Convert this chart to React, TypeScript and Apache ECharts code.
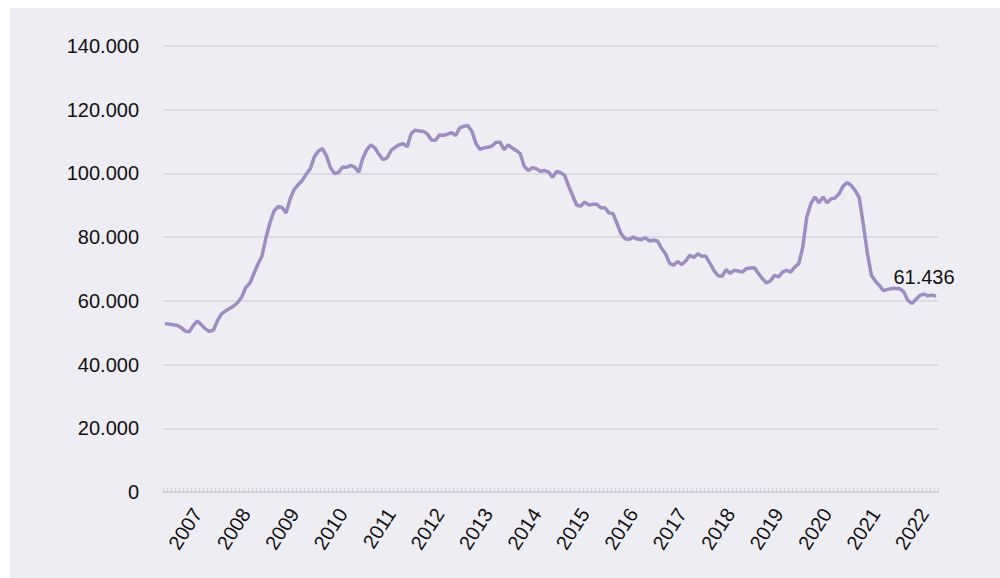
import React, { useEffect, useRef } from "react";
import * as echarts from "echarts";

// Monthly series, May 2006 – April 2022 (values in thousands)
const startYear = 2006;
const startMonth = 5;
const values: number[] = [
  52.9, 52.7, 52.5, 52.3, 51.6, 50.5, 50.3, 52.2, 53.7, 52.5,
  51.2, 50.4, 50.8, 53.8, 55.9, 56.8, 57.6, 58.4, 59.5, 61.2,
  64.2, 65.5, 68.5, 71.5, 74.0, 79.8, 84.5, 88.2, 89.6, 89.3,
  87.6, 92.0, 95.0, 96.5, 97.8, 99.8, 101.5, 105.2, 107.0, 107.8,
  105.5, 101.8, 100.0, 100.3, 102.0, 101.9, 102.5, 102.0, 100.4, 104.8,
  107.5, 109.0, 108.0, 106.0, 104.3, 104.9, 107.2, 108.2, 109.0, 109.3,
  108.4, 112.6, 113.6, 113.3, 113.2, 112.4, 110.5, 110.4, 112.1, 112.0,
  112.3, 112.8, 111.9, 114.3, 114.8, 115.0, 113.3, 109.5, 107.6, 108.0,
  108.2, 108.6, 109.8, 109.8, 107.5, 109.0, 108.0, 107.2, 106.2, 102.2,
  100.9, 101.8, 101.5, 100.7, 100.9, 100.5, 98.8, 100.6, 100.2, 99.4,
  96.0, 93.0, 90.0, 89.8, 91.0, 90.1, 90.3, 90.3, 89.2, 89.2,
  87.6, 87.4, 84.2, 81.0, 79.5, 79.3, 80.0, 79.4, 79.2, 79.8,
  78.8, 79.0, 78.8, 76.5, 74.8, 71.8, 71.2, 72.3, 71.4, 72.5,
  74.3, 73.6, 74.8, 74.0, 74.0, 71.8, 69.5, 67.9, 67.7, 69.8,
  68.6, 69.6, 69.4, 69.0, 70.1, 70.3, 70.4, 68.6, 67.0, 65.6,
  66.3, 68.0, 67.5, 69.0, 69.6, 69.0, 70.6, 71.7, 76.9, 86.3,
  90.5, 92.6, 90.8, 92.6, 90.8, 92.0, 92.3, 93.6, 96.0, 97.1,
  96.2, 94.6, 92.3, 84.0, 75.0, 68.0, 66.2, 64.8, 63.2, 63.6,
  63.9, 63.9, 63.8, 62.9, 60.2, 59.2, 60.4, 61.7, 62.1, 61.6,
  61.8, 61.436,
];
const yTicks = [0, 20, 40, 60, 80, 100, 120, 140];

const categories: string[] = values.map((_, i) => {
  const m0 = startMonth - 1 + i;
  const y = startYear + Math.floor(m0 / 12);
  const m = (m0 % 12) + 1;
  return `${y}-${m < 10 ? "0" + m : m}`;
});

const fmt = (v: number) => (v === 0 ? "0" : v.toFixed(3));

export default function App() {
  const ref = useRef<HTMLDivElement>(null);
  useEffect(() => {
    if (!ref.current) return;
    const chart = echarts.init(ref.current, undefined, { renderer: "svg" });
    const font = "Liberation Sans, Arial, Helvetica, sans-serif";
    const lastIdx = values.length - 1;
    chart.setOption({
      animation: false,
      backgroundColor: "#eeedf3",
      grid: { left: 153, right: 62, top: 38, bottom: 86, containLabel: false },
      xAxis: {
        type: "category",
        data: categories,
        boundaryGap: true,
        axisLine: { lineStyle: { color: "#d2d1d8", width: 1.5 } },
        axisTick: {
          show: true,
          inside: true,
          interval: 0,
          length: 4,
          lineStyle: { color: "#d2d1d8" },
        },
        axisLabel: {
          interval: (_i: number, v: string) => v.endsWith("-01"),
          formatter: (v: string) => v.slice(0, 4),
          rotate: 57,
          margin: 18,
          color: "#111",
          fontSize: 20,
          fontFamily: font,
        },
        splitLine: { show: false },
      },
      yAxis: {
        type: "value",
        min: yTicks[0],
        max: yTicks[yTicks.length - 1],
        interval: 20,
        axisLine: { show: false },
        axisTick: { show: false },
        axisLabel: {
          formatter: (v: number) => fmt(v),
          color: "#111",
          fontSize: 20,
          fontFamily: font,
          margin: 24,
        },
        splitLine: { lineStyle: { color: "#d6d5dc", width: 1.5 } },
      },
      series: [
        {
          type: "line",
          data: values,
          showSymbol: false,
          symbol: "none",
          lineStyle: { color: "#9c8ec2", width: 3.5 },
          itemStyle: { color: "#9c8ec2" },
          markPoint: {
            symbol: "circle",
            symbolSize: 0,
            data: [
              {
                coord: [lastIdx, values[lastIdx]],
                value: values[lastIdx],
                label: {
                  show: true,
                  position: "top",
                  offset: [-12, -4],
                  formatter: () => fmt(values[lastIdx]),
                  color: "#111",
                  fontSize: 20,
                  fontFamily: font,
                },
              },
            ],
          },
        },
      ],
    });
    return () => chart.dispose();
  }, []);
  return (
    <div
      ref={ref}
      style={{ position: "fixed", left: 10, top: 8, width: 990, height: 570 }}
    />
  );
}
